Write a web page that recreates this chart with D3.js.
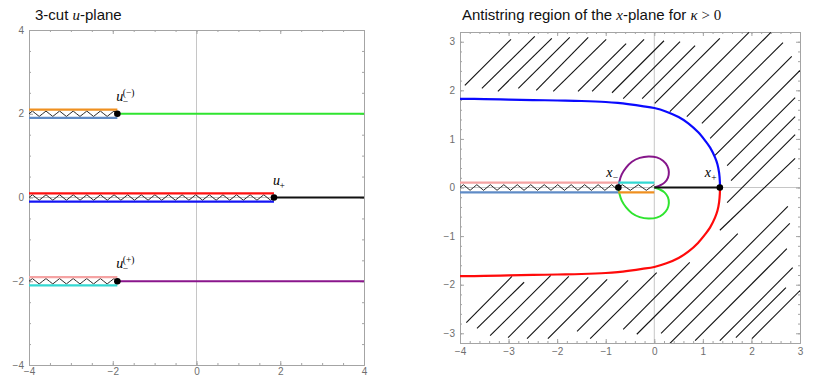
<!DOCTYPE html>
<html>
<head>
<meta charset="utf-8">
<script src="https://cdn.jsdelivr.net/npm/d3@7"></script>
<style>
  body { margin: 0; background: #fff; }
  svg { display: block; font-family: "Liberation Sans", Arial, sans-serif; }
  .frame .domain, .frame .tick line { stroke: #a4a4a4; }
  .frame .tick text { fill: #6e6e6e; font-size: 10px; font-family: "Liberation Sans", Arial, sans-serif; }
  .origin { stroke: #c6c6c6; stroke-width: 1; }
  .math { font-family: "Liberation Serif", "Times New Roman", serif; }
</style>
</head>
<body>
<svg id="chart" width="830" height="386"></svg>
<script>
// ---- left panel: 3-cut u-plane ----
var uLevels = [2, 0, -2];          // height of each cut
var uBranch = [-1.89, 1.85, -1.89]; // branch point on each cut
var uLabelBase = ["u", "u", "u"];
var uLabelSub = ["\u2212", "+", "\u2212"];
var uLabelSup = ["(\u2212)", "", "(+)"];
var leftTicks = [-4, -2, 0, 2, 4];

// ---- right panel: antistring region ----
var xMinus = -0.74, xPlus = 1.35;
var xTicksR = [-4, -3, -2, -1, 0, 1, 2, 3];
var yTicksR = [-3, -2, -1, 0, 1, 2, 3];

var blueCurve = [
  [-4.0, 1.825], [-3.5, 1.82], [-3.0, 1.81], [-2.5, 1.80], [-2.0, 1.79],
  [-1.5, 1.78], [-1.0, 1.76], [-0.75, 1.74], [-0.5, 1.71], [-0.25, 1.675],
  [0.0, 1.635], [0.25, 1.56], [0.5, 1.45], [0.7, 1.32], [0.9, 1.14],
  [1.05, 0.96], [1.15, 0.82], [1.25, 0.62], [1.30, 0.48], [1.335, 0.30],
  [1.35, 0.12], [1.352, 0.0]
];
var redCurve = [
  [-4.0, -1.825], [-3.5, -1.82], [-3.0, -1.81], [-2.5, -1.80], [-2.0, -1.79],
  [-1.5, -1.78], [-1.0, -1.76], [-0.75, -1.74], [-0.5, -1.71], [-0.25, -1.675],
  [0.0, -1.635], [0.25, -1.56], [0.5, -1.45], [0.7, -1.32], [0.9, -1.14],
  [1.05, -0.96], [1.15, -0.82], [1.25, -0.62], [1.30, -0.48], [1.335, -0.30],
  [1.35, -0.12], [1.352, 0.0]
];
var purpleLoop = [
  [-0.74, 0], [-0.72, 0.12], [-0.67, 0.27], [-0.58, 0.41], [-0.46, 0.53],
  [-0.30, 0.61], [-0.12, 0.64], [0.05, 0.62], [0.18, 0.55], [0.27, 0.44],
  [0.30, 0.32], [0.28, 0.20], [0.21, 0.10], [0.11, 0.04], [0.0, 0.0]
];
var greenLoop = [
  [-0.74, 0], [-0.72, -0.12], [-0.67, -0.27], [-0.58, -0.41], [-0.46, -0.53],
  [-0.30, -0.61], [-0.12, -0.64], [0.05, -0.62], [0.18, -0.55], [0.27, -0.44],
  [0.30, -0.32], [0.28, -0.20], [0.21, -0.10], [0.11, -0.04], [0.0, 0.0]
];
// hatch strokes [x1, y1, x2, y2]
var hatch = [
  [-3.90, 2.10, -2.95, 3.05], [-3.55, 2.04, -2.46, 3.11], [-3.22, 1.98, -2.11, 3.07],
  [-2.80, 2.04, -1.74, 3.09], [-2.43, 2.00, -1.36, 3.09], [-2.08, 1.98, -0.99, 3.05],
  [-1.57, 1.98, -0.58, 2.96], [-1.28, 1.98, -0.21, 3.05], [-0.87, 1.95, 0.20, 3.02],
  [-0.64, 1.83, 0.53, 3.00], [-0.25, 1.83, 0.84, 2.92], [0.01, 1.73, 1.35, 3.07],
  [0.32, 1.56, 1.95, 3.19], [0.67, 1.46, 2.40, 3.19], [0.98, 1.32, 2.65, 2.98],
  [1.15, 1.01, 2.83, 2.70], [1.25, 0.66, 3.00, 2.41], [1.50, 0.45, 2.90, 1.85],
  [1.58, 0.14, 2.90, 1.46], [1.50, -0.31, 2.90, 1.09], [1.35, -0.88, 2.90, 0.60],
  [-3.87, -2.78, -2.93, -1.83], [-3.65, -2.90, -2.68, -1.95], [-3.38, -3.05, -2.13, -1.81],
  [-3.01, -3.09, -1.76, -1.83], [-2.62, -3.11, -1.36, -1.85], [-2.19, -3.11, -0.97, -1.89],
  [-1.59, -2.96, -0.54, -1.91], [-1.32, -3.11, 0.05, -1.75], [-0.64, -2.92, 0.73, -1.54],
  [-0.36, -3.02, 1.72, -0.95], [0.14, -3.00, 2.75, -0.39], [0.32, -3.21, 2.79, -0.74],
  [0.84, -3.15, 2.73, -1.26], [1.35, -3.15, 2.85, -1.65], [1.68, -3.09, 2.71, -2.06],
  [2.01, -3.11, 3.00, -2.12]
];

var svg = d3.select("#chart");
var cutGap = 0.1;

var xL = d3.scaleLinear().domain([-4, 4]).range([29, 364]);
var yL = d3.scaleLinear().domain([-4, 4]).range([365, 30]);
var xR = d3.scaleLinear().domain([-4, 3]).range([460, 800]);
var yR = d3.scaleLinear().domain([-3.2, 3.2]).range([343, 32]);

// frame with inward ticks on all four sides, like Mathematica
function drawFrame(x, y, xt, yt, xm, ym, padX, padY) {
  var g = svg.append("g").attr("class", "frame");
  var l = x.range()[0], r = x.range()[1], b = y.range()[0], t = y.range()[1];
  g.append("line").attr("class", "origin")
    .attr("x1", x(0)).attr("x2", x(0)).attr("y1", t).attr("y2", b);
  g.append("line").attr("class", "origin")
    .attr("x1", l).attr("x2", r).attr("y1", y(0)).attr("y2", y(0));
  var fmt = d3.format("d");
  var sides = [
    [d3.axisBottom(x), xt, xm, "translate(0," + b + ")", true, padX],
    [d3.axisTop(x), xt, xm, "translate(0," + t + ")", false, 0],
    [d3.axisLeft(y), yt, ym, "translate(" + l + ",0)", true, padY],
    [d3.axisRight(y), yt, ym, "translate(" + r + ",0)", false, 0]
  ];
  sides.forEach(function (s) {
    var ax = s[0];
    g.append("g").attr("transform", s[3])
      .call(ax.tickValues(s[2]).tickSizeInner(-2).tickSizeOuter(0).tickFormat(""));
    g.append("g").attr("transform", s[3])
      .call(ax.tickValues(s[1]).tickSizeInner(-4).tickSizeOuter(0)
        .tickPadding(s[5]).tickFormat(s[4] ? fmt : ""));
  });
  return g;
}

function zigzag(x0, x1, y, period, amp) {
  var n = Math.max(2, Math.round((x1 - x0) / (period / 2)));
  var pts = [];
  for (var i = 0; i <= n; i++) {
    pts.push([x0 + (x1 - x0) * i / n, i % 2 === 0 ? y : y - (i % 4 === 1 ? amp : -amp)]);
  }
  return d3.line()(pts);
}

function hline(g, x, y, a, b, lv, color, w) {
  g.append("line").attr("x1", x(a)).attr("x2", x(b)).attr("y1", y(lv)).attr("y2", y(lv))
    .attr("stroke", color).attr("stroke-width", w);
}

function mathLabel(px, py, base, sub, sup) {
  var g = svg.append("g").attr("class", "math");
  g.append("text").attr("x", px).attr("y", py).attr("font-size", 14)
    .attr("font-style", "italic").text(base);
  if (sub) g.append("text").attr("x", px + 6.5).attr("y", py + 4).attr("font-size", 9.5).text(sub);
  if (sup) g.append("text").attr("x", px + 6.5).attr("y", py - 5).attr("font-size", 9.5).text(sup);
}

// ---------------- left panel ----------------
drawFrame(xL, yL, leftTicks, leftTicks, d3.range(-4, 4.01, 0.5), d3.range(-4, 4.01, 0.5), 3, 5);

var topCol = ["#ef9020", "#ff1010", "#f5a3a3"];
var botCol = ["#5f8bc6", "#1414f5", "#33d8d2"];
var contCol = ["#2fe42f", "#111111", "#8a168c"];
var gl = svg.append("g");
uLevels.forEach(function (lv, i) {
  gl.append("path").attr("d", zigzag(xL(-4), xL(uBranch[i]), yL(lv), 6.8, 2.7))
    .attr("fill", "none").attr("stroke", "#111").attr("stroke-width", 0.9);
  hline(gl, xL, yL, -4, uBranch[i], lv + cutGap, topCol[i], 2.2);
  hline(gl, xL, yL, -4, uBranch[i], lv - cutGap, botCol[i], 2.2);
  hline(gl, xL, yL, uBranch[i], 4, lv, contCol[i], 2.2);
  gl.append("circle").attr("cx", xL(uBranch[i])).attr("cy", yL(lv)).attr("r", 3.3).attr("fill", "#000");
  mathLabel(xL(uBranch[i]) - 1, yL(lv) - 13, uLabelBase[i], uLabelSub[i], uLabelSup[i]);
});

// ---------------- right panel ----------------
drawFrame(xR, yR, xTicksR, yTicksR, d3.range(-4, 3.01, 0.2), d3.range(-3.2, 3.21, 0.2), 5, 5);

svg.append("clipPath").attr("id", "clipR").append("rect")
  .attr("x", 460).attr("y", 32).attr("width", 340).attr("height", 311);
var gr = svg.append("g").attr("clip-path", "url(#clipR)");

gr.selectAll(".hatch").data(hatch).enter().append("line")
  .attr("class", "hatch")
  .attr("x1", function (d) { return xR(d[0]); }).attr("y1", function (d) { return yR(d[1]); })
  .attr("x2", function (d) { return xR(d[2]); }).attr("y2", function (d) { return yR(d[3]); })
  .attr("stroke", "#111").attr("stroke-width", 1.1);

var curve = d3.line().x(function (d) { return xR(d[0]); }).y(function (d) { return yR(d[1]); })
  .curve(d3.curveCatmullRom);
gr.append("path").attr("d", curve(blueCurve)).attr("fill", "none").attr("stroke", "#0a0aff").attr("stroke-width", 2.2);
gr.append("path").attr("d", curve(redCurve)).attr("fill", "none").attr("stroke", "#ff0a0a").attr("stroke-width", 2.2);
gr.append("path").attr("d", curve(purpleLoop)).attr("fill", "none").attr("stroke", "#86168a").attr("stroke-width", 2);
gr.append("path").attr("d", curve(greenLoop)).attr("fill", "none").attr("stroke", "#2fe42f").attr("stroke-width", 2);

gr.append("path").attr("d", zigzag(xR(-4), xR(xMinus), yR(0), 6.8, 2.8))
  .attr("fill", "none").attr("stroke", "#111").attr("stroke-width", 0.9);
gr.append("path").attr("d", zigzag(xR(xMinus), xR(0), yR(0), 7.6, 2.8))
  .attr("fill", "none").attr("stroke", "#111").attr("stroke-width", 0.9);
hline(gr, xR, yR, -4, xMinus, cutGap, "#f5a3a3", 2.2);
hline(gr, xR, yR, -4, xMinus, -cutGap, "#5f8bc6", 2.2);
hline(gr, xR, yR, xMinus, 0, cutGap, "#33d8d2", 2.2);
hline(gr, xR, yR, xMinus, 0, -cutGap, "#ef9020", 2.2);
hline(gr, xR, yR, 0, xPlus, 0, "#111", 2.2);
[xMinus, xPlus].forEach(function (v) {
  gr.append("circle").attr("cx", xR(v)).attr("cy", yR(0)).attr("r", 3.3).attr("fill", "#000");
});
mathLabel(xR(xMinus) - 12, yR(0) - 11, "x", "\u2212", "");
mathLabel(xR(xPlus) - 15, yR(0) - 11, "x", "+", "");

// ---------------- titles ----------------
var t1 = svg.append("text").attr("x", 35).attr("y", 20).attr("font-size", 15).attr("fill", "#111");
t1.append("tspan").text("3-cut ");
t1.append("tspan").attr("class", "math").attr("font-style", "italic").text("u");
t1.append("tspan").text("-plane");

var t2 = svg.append("text").attr("x", 462).attr("y", 20).attr("font-size", 15).attr("fill", "#111");
t2.append("tspan").text("Antistring region of the ");
t2.append("tspan").attr("class", "math").attr("font-style", "italic").text("x");
t2.append("tspan").text("-plane for ");
t2.append("tspan").attr("class", "math").attr("font-style", "italic").text("\u03ba");
t2.append("tspan").attr("class", "math").text(" > 0");
</script>
</body>
</html>
